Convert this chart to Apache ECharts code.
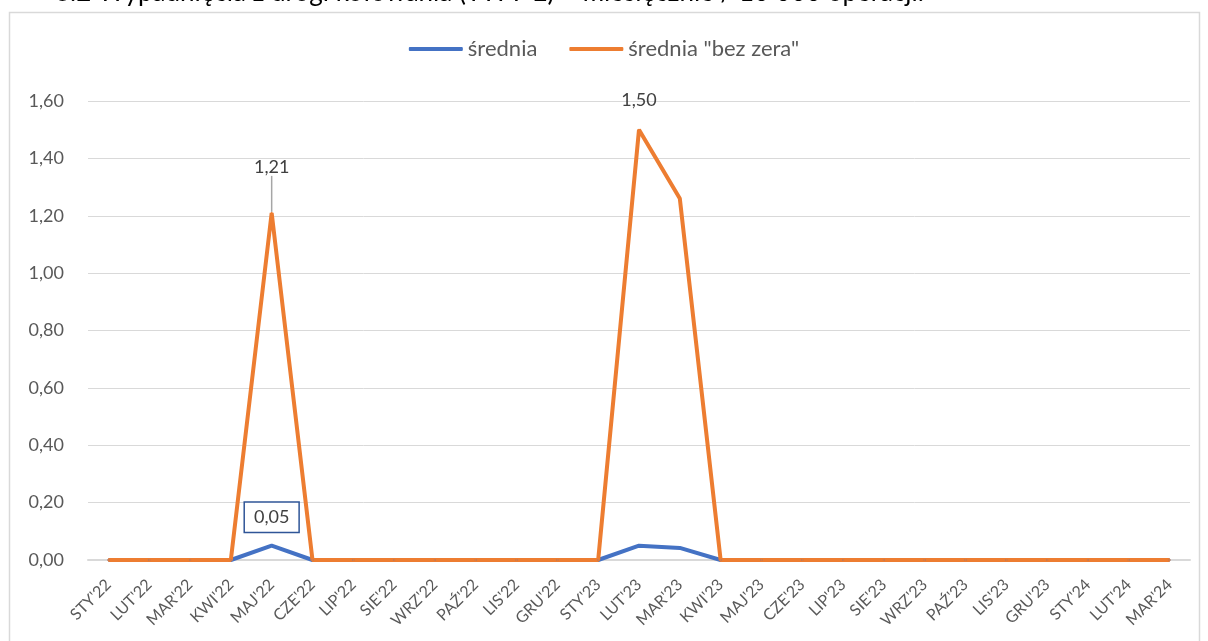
<!DOCTYPE html>
<html><head><meta charset="utf-8">
<script src="https://cdn.jsdelivr.net/npm/echarts@6/dist/echarts.min.js"></script>
<style>html,body{margin:0;padding:0;background:#fff}#c{width:1208px;height:641px}</style>
</head><body><div id="c"></div>
<script>
const categories = ["STY'22","LUT'22","MAR'22","KWI'22","MAJ'22","CZE'22","LIP'22","SIE'22","WRZ'22","PAŹ'22","LIS'22","GRU'22","STY'23","LUT'23","MAR'23","KWI'23","MAJ'23","CZE'23","LIP'23","SIE'23","WRZ'23","PAŹ'23","LIS'23","GRU'23","STY'24","LUT'24","MAR'24"];
const srednia = [0,0,0,0,0.05,0,0,0,0,0,0,0,0,0.05,0.042,0,0,0,0,0,0,0,0,0,0,0,0];
const sredniaBezZera = [0,0,0,0,1.21,0,0,0,0,0,0,0,0,1.50,1.26,0,0,0,0,0,0,0,0,0,0,0,0];
const yTicks = [0,0.2,0.4,0.6,0.8,1.0,1.2,1.4,1.6];
const labelledBlue = [4];
const labelledOrange = [4,13];
const titleText = "3.2 Wypadnięcia z drogi kołowania (TWY-E) – miesięcznie / 10 000 operacji.";

const FONT = 'Lato, "Open Sans", sans-serif';
const fmt = v => v.toFixed(2).replace('.', ',');
const BLUE = '#4472C4', ORANGE = '#ED7D31';

const chart = echarts.init(document.getElementById('c'), null, {renderer:'canvas'});
chart.setOption({
  backgroundColor:'#fff',
  animation:false,
  graphic:[
    {type:'rect', shape:{x:9.5,y:12.5,width:1190,height:640}, style:{fill:'none', stroke:'#d9d9d9', lineWidth:1.5}},
    {type:'text', left:55, top:-20, style:{text:titleText, font:'26px '+FONT, fill:'#000'}}
  ],
  legend:{
    top:33, left:'center', itemWidth:54, itemHeight:4, itemGap:32,
    icon:'roundRect',
    textStyle:{fontFamily:FONT, fontSize:22, color:'#595959', padding:[0,0,0,0]},
    data:[{name:'średnia', itemStyle:{color:BLUE}},{name:'średnia "bez zera"', itemStyle:{color:ORANGE}}]
  },
  grid:{left:88, right:18, top:101, bottom:81},
  xAxis:{
    type:'category', data:categories, boundaryGap:true,
    axisLine:{lineStyle:{color:'#d9d9d9', width:2}},
    axisTick:{show:false},
    axisLabel:{rotate:45, interval:0, fontFamily:FONT, fontSize:16, color:'#595959', margin:22}
  },
  yAxis:{
    type:'value', min:0, max:1.6, interval:0.2,
    axisLine:{show:false}, axisTick:{show:false},
    splitLine:{lineStyle:{color:'#d9d9d9', width:1}},
    axisLabel:{fontFamily:FONT, fontSize:18, color:'#595959', margin:24, formatter:v=>fmt(v)}
  },
  series:[
    {
      name:'średnia', type:'line', symbol:'circle', symbolSize:2, showSymbol:true,
      lineStyle:{width:4, color:BLUE}, itemStyle:{color:BLUE},
      data: srednia.map((v,i)=> labelledBlue.includes(i) ? {value:v, label:{show:true, position:'top', distance:13,
        formatter:p=>fmt(p.value), fontFamily:FONT, fontSize:18, color:'#404040',
        borderColor:'#2F5597', borderWidth:1.5, padding:[6,9,5,9], backgroundColor:'#fff'}} : v)
    },
    {
      name:'średnia "bez zera"', type:'line', symbol:'circle', symbolSize:2, showSymbol:true,
      lineStyle:{width:4, color:ORANGE}, itemStyle:{color:ORANGE},
      data: sredniaBezZera.map((v,i)=> labelledOrange.includes(i) ? {value:v,
        label:{show:true, position:'top', distance: i===13?20:5,
          formatter:p=>fmt(p.value), fontFamily:FONT, fontSize:18, color:'#404040'},
        labelLine:{show: i===4, lineStyle:{color:'#a6a6a6', width:1.5}}} : v),
      labelLine:{show:false},
      labelLayout: p => (p.dataIndex===4 ? {dy:-31} : {})
    }
  ]
});
</script></body></html>
